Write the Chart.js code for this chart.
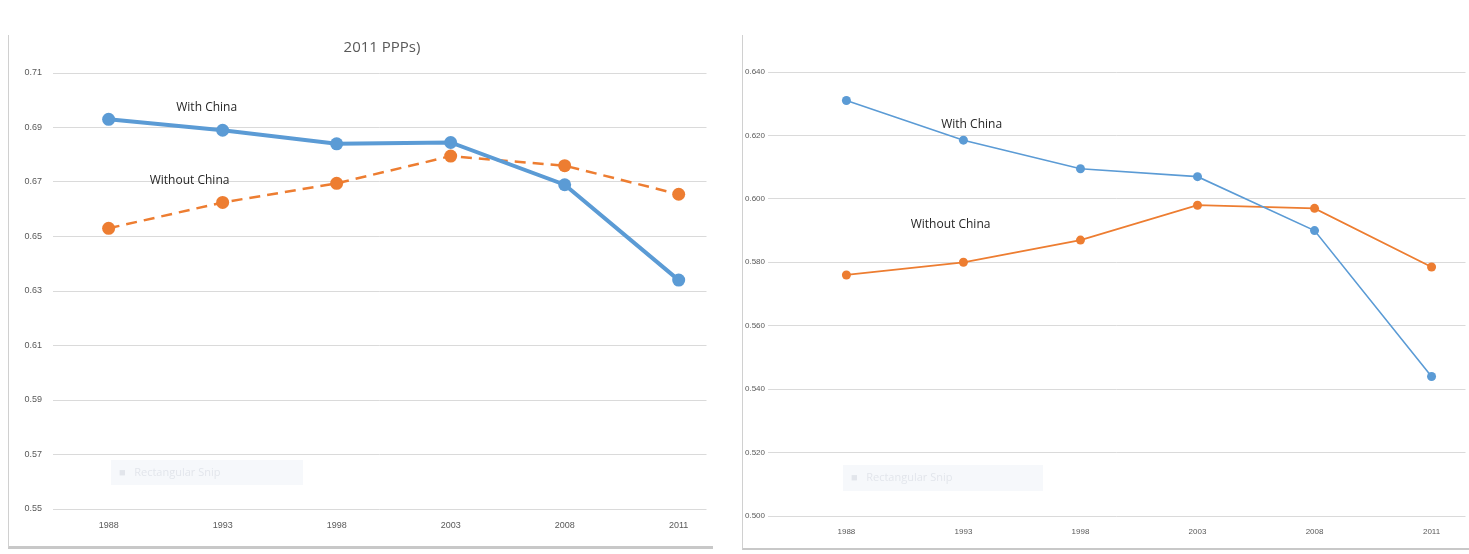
<!DOCTYPE html>
<html>
<head>
<meta charset="utf-8">
<script src="https://cdn.jsdelivr.net/npm/chart.js@4.4.1/dist/chart.umd.min.js"></script>
<style>
  body { margin: 0; background: #fff; width: 1469px; height: 554px; overflow: hidden; position: relative; }
  .panel { position: absolute; top: 35px; background: #fff; }
  #leftPanel { left: 8px; width: 704px; height: 511px; border-left: 1px solid #d0d0d0; border-bottom: 3px solid #c8c8c8; }
  #rightPanel { left: 742px; width: 727px; height: 513px; border-left: 1px solid #d0d0d0; border-bottom: 2px solid #c8c8c8; }
</style>
</head>
<body>
<div class="panel" id="leftPanel"><canvas id="leftChart" width="704" height="513"></canvas></div>
<div class="panel" id="rightPanel"><canvas id="rightChart" width="727" height="513"></canvas></div>

<script>
// Data
const years = ['1988', '1993', '1998', '2003', '2008', '2011'];

const leftWithChina = [0.693, 0.689, 0.684, 0.6845, 0.669, 0.634];
const leftWithoutChina = [0.653, 0.6625, 0.6695, 0.6795, 0.676, 0.6655];
const leftTicks = [0.55, 0.57, 0.59, 0.61, 0.63, 0.65, 0.67, 0.69, 0.71];

const rightWithChina = [0.631, 0.6185, 0.6095, 0.607, 0.590, 0.544];
const rightWithoutChina = [0.576, 0.580, 0.587, 0.598, 0.597, 0.5785];
const rightTicks = [0.500, 0.520, 0.540, 0.560, 0.580, 0.600, 0.620, 0.640];

const seriesNames = ['With China', 'Without China'];

const BLUE = '#5b9bd5';
const ORANGE = '#ed7d31';

// Turn a value list into points on the index axis
function toPoints(values) {
  return values.map((v, i) => ({ x: i, y: v }));
}

// Draws the in-chart series labels, the title and the faint snip box
const extrasPlugin = {
  id: 'extras',
  afterDraw(chart, args, opts) {
    const ctx = chart.ctx;
    const xs = chart.scales.x;
    const ys = chart.scales.y;
    ctx.save();

    // faint "Rectangular Snip" box left over from the screenshot
    if (opts.snip) {
      const s = opts.snip;
      ctx.fillStyle = 'rgba(235,240,246,0.45)';
      ctx.fillRect(s.x, s.y, s.w, s.h);
      ctx.fillStyle = 'rgba(190,195,205,0.35)';
      ctx.font = '11px "Open Sans"';
      ctx.textBaseline = 'middle';
      ctx.textAlign = 'left';
      ctx.fillText('\u25A0   Rectangular Snip', s.x + 8, s.y + s.h / 2);
    }

    if (opts.title) {
      ctx.fillStyle = '#595959';
      ctx.font = '15px "Open Sans"';
      ctx.textAlign = 'center';
      ctx.textBaseline = 'middle';
      ctx.fillText(opts.title, opts.titleX, opts.titleY);
    }

    ctx.fillStyle = '#262626';
    ctx.font = '12px "Open Sans"';
    ctx.textAlign = 'center';
    ctx.textBaseline = 'middle';
    opts.labels.forEach((lab) => {
      ctx.fillText(lab.text, xs.getPixelForValue(lab.at), ys.getPixelForValue(lab.val));
    });
    ctx.restore();
  }
};

function makeChart(canvasId, setup) {
  const ctx = document.getElementById(canvasId).getContext('2d');
  return new Chart(ctx, {
    type: 'line',
    data: {
      datasets: [
        {
          label: seriesNames[0],
          data: toPoints(setup.withChina),
          borderColor: BLUE,
          backgroundColor: BLUE,
          borderWidth: setup.lineWidth,
          pointRadius: setup.pointRadius,
          pointBorderWidth: 0,
          pointBackgroundColor: BLUE
        },
        {
          label: seriesNames[1],
          data: toPoints(setup.withoutChina),
          borderColor: ORANGE,
          backgroundColor: ORANGE,
          borderWidth: setup.dashedWidth,
          borderDash: setup.dash,
          pointRadius: setup.pointRadius,
          pointBorderWidth: 0,
          pointBackgroundColor: ORANGE
        }
      ]
    },
    options: {
      responsive: false,
      animation: false,
      layout: { padding: setup.padding },
      scales: {
        x: {
          type: 'linear',
          min: setup.xMin,
          max: setup.xMax,
          afterBuildTicks: (scale) => {
            scale.ticks = years.map((y, i) => ({ value: i }));
          },
          afterFit: (scale) => { scale.height = setup.xAxisHeight; },
          grid: { display: false, drawTicks: false },
          border: { display: false },
          ticks: {
            padding: setup.xTickPad,
            color: '#595959',
            font: { family: 'Liberation Sans', size: setup.tickSize },
            maxRotation: 0,
            callback: (v) => years[v]
          }
        },
        y: {
          min: setup.ticks[0],
          max: setup.ticks[setup.ticks.length - 1],
          afterBuildTicks: (scale) => {
            scale.ticks = setup.ticks.map((t) => ({ value: t }));
          },
          afterFit: (scale) => { scale.width = setup.yAxisWidth; },
          grid: { color: '#dadada', lineWidth: 1, drawTicks: false },
          border: { display: false },
          ticks: {
            padding: setup.yTickPad,
            color: '#595959',
            font: { family: 'Liberation Sans', size: setup.tickSize },
            callback: (v) => v.toFixed(setup.decimals)
          }
        }
      },
      plugins: {
        legend: { display: false },
        tooltip: { enabled: false },
        extras: setup.extras
      }
    },
    plugins: [extrasPlugin]
  });
}

document.addEventListener('DOMContentLoaded', () => {
  // Left chart: thick lines, dashed orange
  makeChart('leftChart', {
    withChina: leftWithChina,
    withoutChina: leftWithoutChina,
    ticks: leftTicks,
    decimals: 2,
    tickSize: 9,
    lineWidth: 4,
    dashedWidth: 2.5,
    dash: [11, 7],
    pointRadius: 6.5,
    xMin: -0.488,
    xMax: 5.244,
    padding: { top: 38, right: 2, left: 0, bottom: 0 },
    yAxisWidth: 44,
    yTickPad: 11,
    xAxisHeight: 39,
    xTickPad: 11,
    extras: {
      title: '2011 PPPs)',
      titleX: 373,
      titleY: 13,
      snip: { x: 102, y: 425, w: 192, h: 25 },
      labels: [
        { text: seriesNames[0], at: 0.86, val: 0.6972 },
        { text: seriesNames[1], at: 0.71, val: 0.6707 }
      ]
    }
  });

  // Right chart: thin solid lines
  makeChart('rightChart', {
    withChina: rightWithChina,
    withoutChina: rightWithoutChina,
    ticks: rightTicks,
    decimals: 3,
    tickSize: 8,
    lineWidth: 1.6,
    dashedWidth: 1.8,
    dash: [],
    pointRadius: 4.5,
    xMin: -0.67,
    xMax: 5.29,
    padding: { top: 37, right: 0, left: 0, bottom: 0 },
    yAxisWidth: 25,
    yTickPad: 3,
    xAxisHeight: 32,
    xTickPad: 11,
    extras: {
      snip: { x: 100, y: 430, w: 200, h: 26 },
      labels: [
        { text: seriesNames[0], at: 1.07, val: 0.6233 },
        { text: seriesNames[1], at: 0.89, val: 0.5918 }
      ]
    }
  });
});
</script>
</body>
</html>
